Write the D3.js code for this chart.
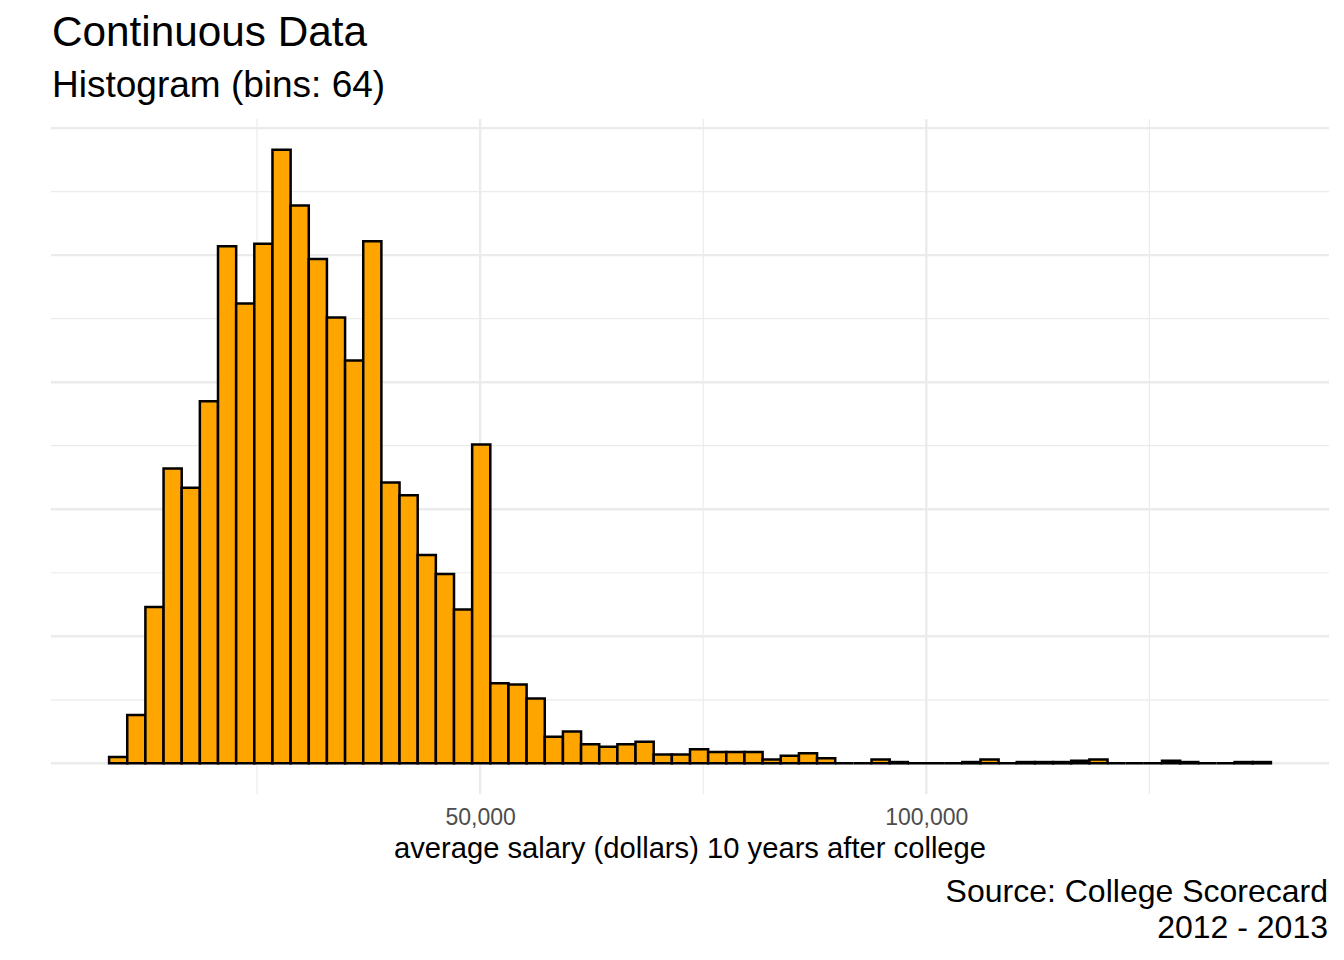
<!DOCTYPE html>
<html>
<head>
<meta charset="utf-8">
<script src="https://cdn.jsdelivr.net/npm/d3@7"></script>
<style>
    body { margin: 0; background: #ffffff; }
    svg { display: block; font-family: "Liberation Sans", Arial, Helvetica, sans-serif; }
</style>
</head>
<body>
<svg id="chart" width="1344" height="960"></svg>
<script>
// Histogram counts, one per bin (64 bins)
const binCounts = [
    5, 38, 123, 232, 217, 285, 407, 362, 409, 483,
    439, 397, 351, 317, 411, 221, 211, 164, 149, 121,
    251, 63, 62, 51, 21, 25, 15, 13, 15, 17,
    7, 7, 11, 9, 9, 9, 3, 6, 8, 4,
    0, 0, 3, 1, 0, 0, 0, 1, 3, 0,
    1, 1, 1, 2, 3, 0, 0, 0, 2, 1,
    0, 0, 1, 1
];

// Smallest and largest salary: the first and last bin are centred on them
const salaryRange = [9440, 137600];

const xMajorTicks = [50000, 100000];
const xMinorTicks = [25000, 75000, 125000];
const yMajorTicks = [0, 100, 200, 300, 400, 500];
const yMinorTicks = [50, 150, 250, 350, 450];

const titleText    = "Continuous Data";
const subtitleText = "Histogram (bins: 64)";
const xAxisTitle   = "average salary (dollars) 10 years after college";
const captionLines = ["Source: College Scorecard", "2012 - 2013"];

// Panel placement
const panel = { left: 51, right: 1329, top: 119, bottom: 794 };

// Bin edges, ggplot style: width = range / (bins - 1)
const binWidth = (salaryRange[1] - salaryRange[0]) / (binCounts.length - 1);
const firstEdge = salaryRange[0] - binWidth / 2;
const bins = binCounts.map((count, i) => ({
    x0: firstEdge + i * binWidth,
    x1: firstEdge + (i + 1) * binWidth,
    count: count
}));

const dataMin = bins[0].x0;
const dataMax = bins[bins.length - 1].x1;
const xPad = (dataMax - dataMin) * 0.05;

const x = d3.scaleLinear()
    .domain([dataMin - xPad, dataMax + xPad])
    .range([panel.left, panel.right]);

const yMax = d3.max(binCounts);
const y = d3.scaleLinear()
    .domain([-yMax * 0.05, yMax * 1.05])
    .range([panel.bottom, panel.top]);

const svg = d3.select("#chart");

// Grid lines
const grid = svg.append("g").attr("class", "grid");

grid.selectAll("line.y-minor")
    .data(yMinorTicks)
    .join("line")
    .attr("class", "y-minor")
    .attr("x1", panel.left).attr("x2", panel.right)
    .attr("y1", d => y(d)).attr("y2", d => y(d))
    .attr("stroke", "#ebebeb")
    .attr("stroke-width", 1.2);

grid.selectAll("line.x-minor")
    .data(xMinorTicks)
    .join("line")
    .attr("class", "x-minor")
    .attr("x1", d => x(d)).attr("x2", d => x(d))
    .attr("y1", panel.top).attr("y2", panel.bottom)
    .attr("stroke", "#ebebeb")
    .attr("stroke-width", 1.2);

grid.selectAll("line.y-major")
    .data(yMajorTicks)
    .join("line")
    .attr("class", "y-major")
    .attr("x1", panel.left).attr("x2", panel.right)
    .attr("y1", d => y(d)).attr("y2", d => y(d))
    .attr("stroke", "#ebebeb")
    .attr("stroke-width", 2.4);

grid.selectAll("line.x-major")
    .data(xMajorTicks)
    .join("line")
    .attr("class", "x-major")
    .attr("x1", d => x(d)).attr("x2", d => x(d))
    .attr("y1", panel.top).attr("y2", panel.bottom)
    .attr("stroke", "#ebebeb")
    .attr("stroke-width", 2.4);

// Bars as closed paths, so that empty bins still show their outline
const barPath = d => {
    const p = d3.path();
    p.moveTo(x(d.x0), y(0));
    p.lineTo(x(d.x0), y(d.count));
    p.lineTo(x(d.x1), y(d.count));
    p.lineTo(x(d.x1), y(0));
    p.closePath();
    return p.toString();
};

svg.append("g")
    .attr("class", "bars")
    .selectAll("path")
    .data(bins)
    .join("path")
    .attr("d", barPath)
    .attr("fill", "#ffa500")
    .attr("stroke", "#000000")
    .attr("stroke-width", 2.5)
    .attr("stroke-linejoin", "miter");

// X axis labels (no ticks, no domain line)
const xAxis = svg.append("g")
    .attr("class", "x-axis")
    .attr("transform", `translate(0,${panel.bottom})`)
    .call(d3.axisBottom(x)
        .tickValues(xMajorTicks)
        .tickFormat(d3.format(","))
        .tickSize(0)
        .tickPadding(0));

xAxis.select(".domain").remove();
xAxis.selectAll("text")
    .attr("dy", null)
    .attr("y", 31)
    .attr("fill", "#4d4d4d")
    .style("font-family", "\"Liberation Sans\", Arial, sans-serif")
    .style("font-size", "23px");

// Axis title
svg.append("text")
    .attr("x", (panel.left + panel.right) / 2)
    .attr("y", 857.5)
    .attr("text-anchor", "middle")
    .attr("fill", "#000000")
    .style("font-size", "29.2px")
    .text(xAxisTitle);

// Title and subtitle
svg.append("text")
    .attr("x", 52)
    .attr("y", 46)
    .attr("fill", "#000000")
    .style("font-size", "42.3px")
    .text(titleText);

svg.append("text")
    .attr("x", 52)
    .attr("y", 96.5)
    .attr("fill", "#000000")
    .style("font-size", "37px")
    .text(subtitleText);

// Caption, right aligned
svg.append("g")
    .attr("class", "caption")
    .selectAll("text")
    .data(captionLines)
    .join("text")
    .attr("x", 1328)
    .attr("y", (d, i) => 902 + i * 35.5)
    .attr("text-anchor", "end")
    .attr("fill", "#000000")
    .style("font-size", "32px")
    .text(d => d);
</script>
</body>
</html>
